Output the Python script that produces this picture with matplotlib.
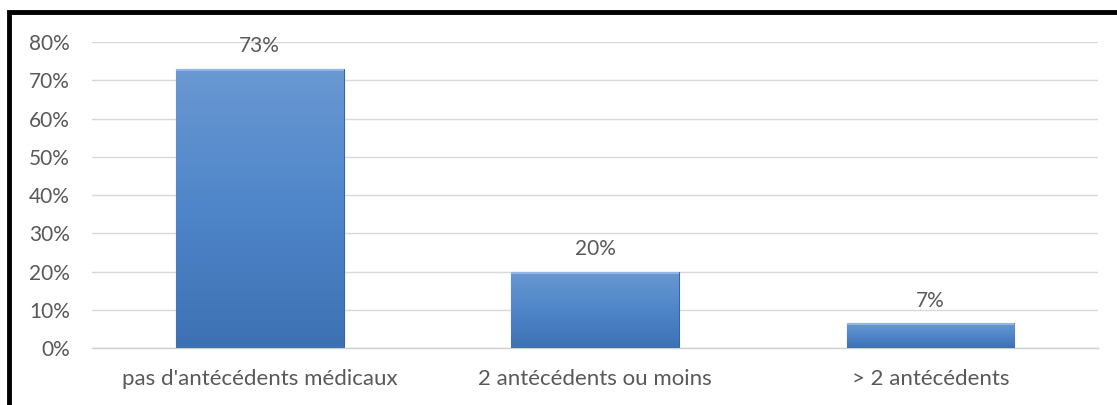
import matplotlib.pyplot as plt
import numpy as np
from matplotlib.patches import Rectangle

categories = ["pas d'antécédents médicaux", "2 antécédents ou moins", "> 2 antécédents"]
values = [0.73, 0.20, 0.065]
labels = ["73%", "20%", "7%"]
yticks = [0, 0.1, 0.2, 0.3, 0.4, 0.5, 0.6, 0.7, 0.8]

plt.rcParams['font.family'] = ['Lato', 'DejaVu Sans']
grey = '#595959'

fig = plt.figure(figsize=(11.17, 4.05), dpi=100)
ax = fig.add_axes([0.0824, 0.1407, 0.9006, 0.7556])

x = np.arange(len(categories))
bars = ax.bar(x, values, width=0.5, color='#4a7ebf', edgecolor='#3a659c', linewidth=0.8, zorder=2)

# vertical gradient in each bar
grad = np.linspace(0, 1, 256).reshape(-1, 1)
cmap = plt.matplotlib.colors.LinearSegmentedColormap.from_list('b', ['#3d71b3', '#4f86c9', '#6a98d2'])
for b in bars:
    x0, y0 = b.get_x(), b.get_y()
    w, h = b.get_width(), b.get_height()
    im = ax.imshow(grad, cmap=cmap, origin='lower', aspect='auto',
                   extent=[x0, x0 + w, y0, y0 + h], zorder=3)
    im.set_clip_path(b)
    # light bevel strip on top
    ax.add_patch(Rectangle((x0, y0 + h - 0.006), w, 0.006, color='#8fb6e6', zorder=4, lw=0))

for xi, v, lab in zip(x, values, labels):
    ax.annotate(lab, (xi, v), xytext=(0, 9), textcoords='offset points',
                ha='center', va='bottom', fontsize=15, color=grey)

ax.set_xlim(-0.5, len(categories) - 0.5)
ax.set_ylim(0, 0.8)
ax.set_yticks(yticks)
ax.set_yticklabels([f"{int(round(t * 100))}%" for t in yticks])
ax.set_xticks(x)
ax.set_xticklabels(categories)
ax.tick_params(axis='y', length=0, pad=16, labelsize=15, labelcolor=grey)
ax.tick_params(axis='x', length=0, pad=15, labelsize=16, labelcolor=grey)
ax.grid(axis='y', color='#d9d9d9', linewidth=1, zorder=0)
ax.set_axisbelow(True)
for s in ['top', 'right', 'left']:
    ax.spines[s].set_visible(False)
ax.spines['bottom'].set_color('#d0d0d0')
ax.spines['bottom'].set_linewidth(1)

# black frame around the chart
fig.patches.append(Rectangle((9 / 1117, -0.05), 1.1, 1 - 12 / 405 + 0.05, transform=fig.transFigure,
                             fill=False, edgecolor='black', linewidth=3.5))

fig.savefig('out.png', dpi=100)
